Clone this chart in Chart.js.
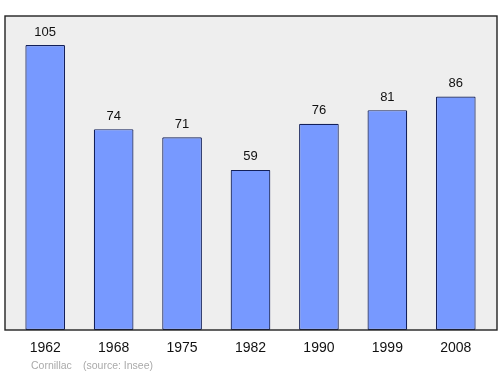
<!DOCTYPE html>
<html lang="fr">
<head>
  <meta charset="UTF-8">
  <title>Cornillac - population</title>
  <script src="https://cdn.jsdelivr.net/npm/chart.js"></script>
  <style>
    body { margin: 0; background: #fff; }
    #wrap { width: 500px; height: 374px; }
  </style>
</head>
<body>
  <div id="wrap"><canvas id="myChart" width="500" height="374"></canvas></div>
  <script>
    const years = ['1962', '1968', '1975', '1982', '1990', '1999', '2008'];
    const population = [105, 74, 71, 59, 76, 81, 86];
    const sourceText = ['Cornillac', '(source: Insee)'];

    // gray box behind the bars, a bit wider than the chart area
    const boxPlugin = {
      id: 'box',
      beforeDraw(chart) {
        const { ctx, chartArea } = chart;
        const x0 = chartArea.left - 6, x1 = chartArea.right + 7;
        ctx.save();
        ctx.fillStyle = '#eeeeee';
        ctx.fillRect(x0, chartArea.top, x1 - x0, chartArea.bottom - chartArea.top);
        ctx.restore();
      },
      afterDatasetsDraw(chart) {
        const { ctx, chartArea } = chart;
        const x0 = chartArea.left - 6, x1 = chartArea.right + 7;
        ctx.save();
        ctx.strokeStyle = '#222';
        ctx.lineWidth = 1.4;
        ctx.strokeRect(x0, chartArea.top, x1 - x0, chartArea.bottom - chartArea.top);

        // value labels
        ctx.fillStyle = '#111';
        ctx.font = '13px "Liberation Sans", Arial, sans-serif';
        ctx.textAlign = 'center';
        ctx.textBaseline = 'middle';
        chart.getDatasetMeta(0).data.forEach((bar, i) => {
          ctx.fillText(population[i], bar.x, bar.y - 13);
        });

        // source line
        ctx.fillStyle = '#aaaaaa';
        ctx.font = '10.5px "Liberation Sans", Arial, sans-serif';
        ctx.textAlign = 'left';
        ctx.fillText(sourceText[0], 31, 366);
        ctx.fillText(sourceText[1], 83, 366);
        ctx.restore();
      }
    };

    new Chart(document.getElementById('myChart'), {
      type: 'bar',
      data: {
        labels: years,
        datasets: [{
          data: population,
          backgroundColor: '#7799ff',
          borderColor: '#13205a',
          borderWidth: 1.2,
          borderSkipped: false,
          borderRadius: 1,
          barPercentage: 0.58,
          categoryPercentage: 1
        }]
      },
      options: {
        responsive: false,
        animation: false,
        layout: { padding: { left: 11, right: 10, top: 16, bottom: 0 } },
        plugins: { legend: { display: false }, tooltip: { enabled: false } },
        scales: {
          x: {
            grid: { display: false, drawTicks: false },
            border: { display: false },
            ticks: {
              color: '#111',
              padding: 10,
              font: { family: '"Liberation Sans", Arial, sans-serif', size: 14 }
            },
            afterFit(scale) { scale.height = 44; }
          },
          y: {
            display: false,
            min: 0,
            max: 115.7
          }
        }
      },
      plugins: [boxPlugin]
    });
  </script>
</body>
</html>
